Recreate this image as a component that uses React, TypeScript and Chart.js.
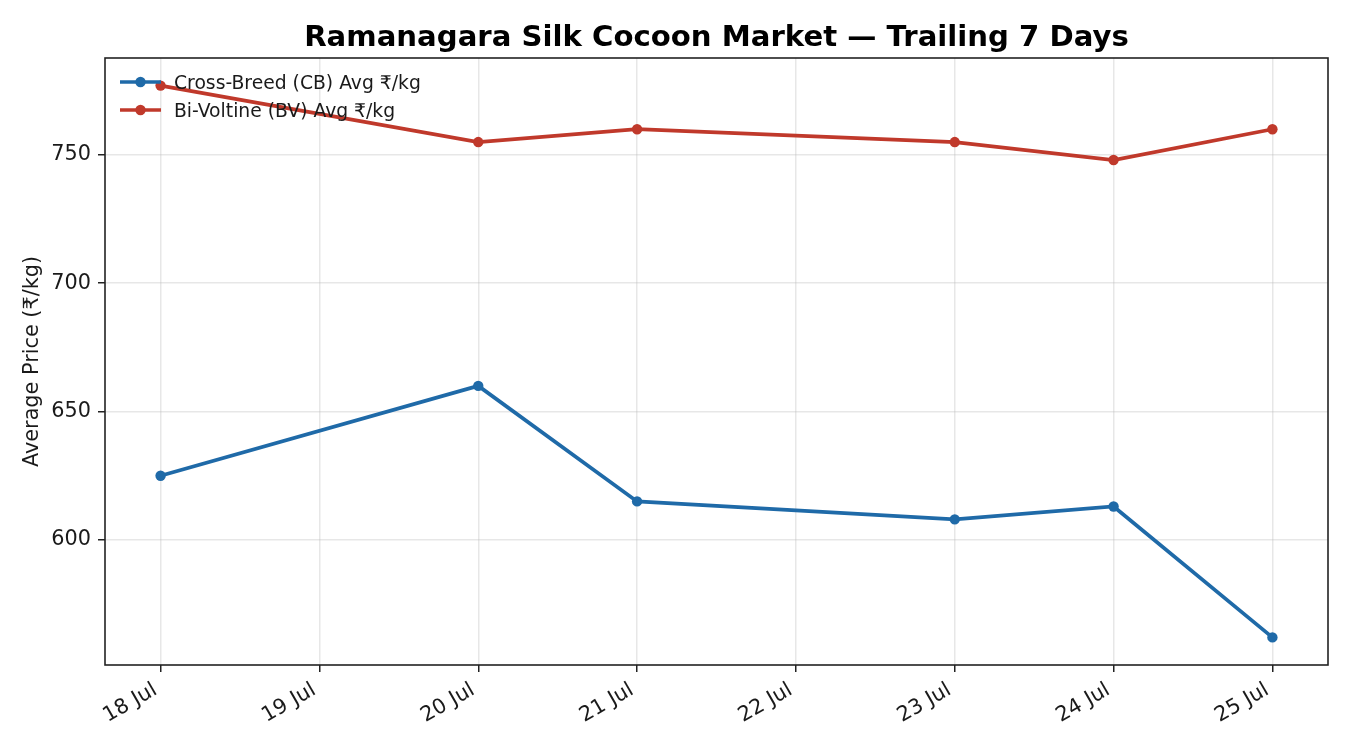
import React, { useEffect, useRef } from 'react';
import { Chart, registerables } from 'chart.js';

Chart.register(...registerables);

// ---- data ----
const tickDays = [18, 19, 20, 21, 22, 23, 24, 25];
const tickLabels = ['18 Jul', '19 Jul', '20 Jul', '21 Jul', '22 Jul', '23 Jul', '24 Jul', '25 Jul'];
const obsDays = [18, 20, 21, 23, 24, 25];
const cbAvg = [625, 660, 615, 608, 613, 562];
const bvAvg = [777, 755, 760, 755, 748, 760];
const yTicks = [600, 650, 700, 750];
const seriesLabels = ['Cross-Breed (CB) Avg ₹/kg', 'Bi-Voltine (BV) Avg ₹/kg'];
const titleText = 'Ramanagara Silk Cocoon Market — Trailing 7 Days';
const yTitle = 'Average Price (₹/kg)';

const FONT = "'DejaVu Sans', 'Noto Sans', sans-serif";
const BLUE = '#1f6aa8';
const RED = '#c0392b';
const INK = '#1a1a1a';
const TICK_FS = 20.8;
const LEGEND_FS = 18.75;

const framePlugin = {
  id: 'mplFrame',
  afterDraw(chart: any) {
    const { ctx, chartArea: a } = chart;
    ctx.save();
    ctx.strokeStyle = '#222';
    ctx.lineWidth = 1.6;
    ctx.strokeRect(a.left, a.top, a.right - a.left, a.bottom - a.top);
    ctx.restore();
  },
};

// title centred over the plot area (like matplotlib's axes title)
const titlePlugin = {
  id: 'mplTitle',
  afterDraw(chart: any) {
    const { ctx, chartArea: a } = chart;
    ctx.save();
    ctx.fillStyle = '#000';
    ctx.font = `bold 29.17px ${FONT}`;
    ctx.textAlign = 'center';
    ctx.textBaseline = 'alphabetic';
    ctx.fillText(titleText, (a.left + a.right) / 2, 45.5);
    ctx.restore();
  },
};

// rotated x tick labels, right/top aligned to the tick like matplotlib
const xLabelPlugin = {
  id: 'mplXLabels',
  afterDraw(chart: any) {
    const { ctx, chartArea: a } = chart;
    const sx = chart.scales.x;
    const th = (30 * Math.PI) / 180;
    const c = Math.cos(th);
    const s = Math.sin(th);
    ctx.save();
    ctx.fillStyle = INK;
    ctx.font = `${TICK_FS}px ${FONT}`;
    ctx.textAlign = 'left';
    ctx.textBaseline = 'alphabetic';
    const h = 0.996 * TICK_FS;
    const d = 0.236 * TICK_FS;
    const y0 = a.bottom + 14.6;
    tickDays.forEach((v, i) => {
      const label = tickLabels[i];
      const w = ctx.measureText(label).width;
      const px = sx.getPixelForValue(v);
      const ox = px - w * c;
      const oy = y0 + w * s + h * c;
      ctx.save();
      ctx.translate(ox, oy);
      ctx.rotate(-th);
      ctx.fillText(label, 0, -d);
      ctx.restore();
    });
    ctx.restore();
  },
};

const legendPlugin = {
  id: 'mplLegend',
  afterDatasetsDraw(chart: any) {
    const { ctx, chartArea: a } = chart;
    ctx.save();
    chart.data.datasets.forEach((ds: any, i: number) => {
      const y = a.top + 24 + i * 28;
      const x0 = a.left + 15;
      const x1 = a.left + 56;
      ctx.strokeStyle = ds.borderColor;
      ctx.lineWidth = ds.borderWidth;
      ctx.lineCap = 'butt';
      ctx.beginPath();
      ctx.moveTo(x0, y);
      ctx.lineTo(x1, y);
      ctx.stroke();
      ctx.fillStyle = ds.borderColor;
      ctx.beginPath();
      ctx.arc((x0 + x1) / 2, y, ds.pointRadius, 0, Math.PI * 2);
      ctx.fill();
      ctx.fillStyle = INK;
      ctx.font = `${LEGEND_FS}px ${FONT}`;
      ctx.textAlign = 'left';
      ctx.textBaseline = 'alphabetic';
      ctx.fillText(ds.label, a.left + 69, y + 0.3645 * LEGEND_FS);
    });
    ctx.restore();
  },
};

export default function App() {
  const ref = useRef<HTMLCanvasElement | null>(null);

  useEffect(() => {
    const canvas = ref.current;
    if (!canvas) return;
    const mk = (label: string, vals: number[], color: string) => ({
      label,
      data: obsDays.map((d, i) => ({ x: d, y: vals[i] })),
      borderColor: color,
      backgroundColor: color,
      pointBackgroundColor: color,
      pointBorderWidth: 0,
      pointRadius: 5.2,
      borderWidth: 3.7,
      tension: 0,
      fill: false,
    });
    const grid = {
      color: 'rgba(176,176,176,0.3)',
      lineWidth: 1.5,
      drawTicks: true,
      tickLength: 7,
      tickColor: '#222',
      tickWidth: 1.5,
    };
    const chart = new Chart(canvas, {
      type: 'line',
      data: {
        datasets: [mk(seriesLabels[0], cbAvg, BLUE), mk(seriesLabels[1], bvAvg, RED)],
      },
      options: {
        animation: false,
        responsive: false,
        devicePixelRatio: 1,
        layout: { padding: { left: 0, right: 22, top: 58, bottom: 0 } },
        plugins: {
          legend: { display: false },
          tooltip: { enabled: false },
          title: { display: false },
        },
        scales: {
          x: {
            type: 'linear',
            min: 17.65,
            max: 25.35,
            afterBuildTicks: (s: any) => {
              s.ticks = tickDays.map((v) => ({ value: v }));
            },
            afterFit: (s: any) => {
              s.height = 85;
            },
            ticks: { display: false },
            grid,
            border: { display: false },
          },
          y: {
            type: 'linear',
            min: 551.25,
            max: 787.75,
            afterBuildTicks: (s: any) => {
              s.ticks = yTicks.map((v) => ({ value: v }));
            },
            afterFit: (s: any) => {
              s.width = 105;
            },
            title: {
              display: true,
              text: yTitle,
              color: INK,
              font: { family: FONT, size: 20.8 },
              padding: { top: 20, bottom: 0 },
            },
            ticks: {
              color: INK,
              font: { family: FONT, size: TICK_FS },
              padding: 7,
            },
            grid,
            border: { display: false },
          },
        },
      },
      plugins: [framePlugin, titlePlugin, xLabelPlugin, legendPlugin],
    } as any);
    return () => chart.destroy();
  }, []);

  return (
    <div style={{ position: 'fixed', left: 0, top: 0, width: 1350, height: 750, background: '#fff' }}>
      <canvas ref={ref} width={1350} height={750} style={{ width: 1350, height: 750, display: 'block' }} />
    </div>
  );
}
